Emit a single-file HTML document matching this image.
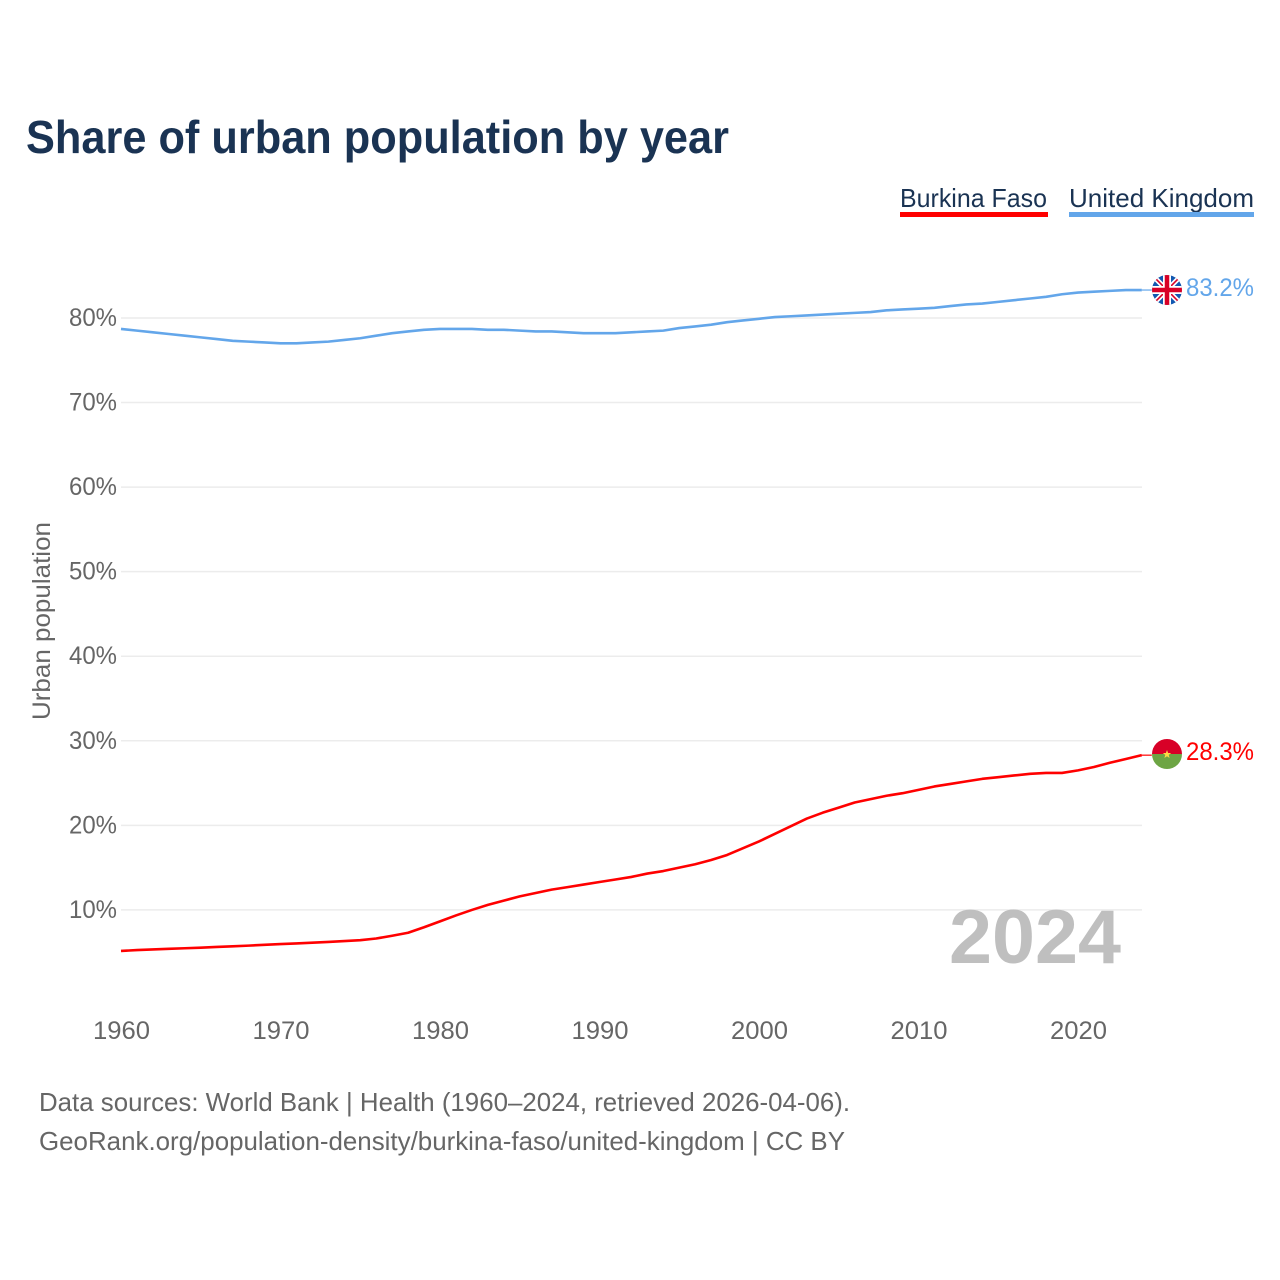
<!DOCTYPE html>
<html lang="en">
<head>
<meta charset="utf-8">
<title>Share of urban population by year</title>
<style>
html,body{margin:0;padding:0;background:#fff;width:1280px;height:1280px;overflow:hidden}
svg{display:block}
text{font-family:"Liberation Sans",sans-serif}
</style>
</head>
<body>
<svg id="chart" xmlns="http://www.w3.org/2000/svg" width="1280" height="1280" viewBox="0 0 1280 1280">
  <defs>
    <clipPath id="flag-clip-uk"><circle cx="1167" cy="290" r="15"/></clipPath>
    <clipPath id="flag-clip-bf"><circle cx="1167" cy="754" r="15"/></clipPath>
  </defs>
  <text x="26" y="153" font-size="46" font-weight="700" fill="#1a3353" textLength="703" lengthAdjust="spacingAndGlyphs">Share of urban population by year</text>

  <g>
    <text x="900" y="207" font-size="26" fill="#1a3353" textLength="147" lengthAdjust="spacingAndGlyphs">Burkina Faso</text>
    <rect x="900" y="212" width="148" height="5" fill="#ff0000"/>
  </g>
  <g>
    <text x="1069" y="207" font-size="26" fill="#1a3353" textLength="185" lengthAdjust="spacingAndGlyphs">United Kingdom</text>
    <rect x="1069" y="212" width="185" height="5" fill="#63a6ea"/>
  </g>

  <g id="grid"></g>
  <g id="y-ticks"></g>
  <g id="x-ticks"></g>

  <text transform="translate(50,720) rotate(-90)" font-size="25" fill="#666" textLength="198" lengthAdjust="spacingAndGlyphs">Urban population</text>

  <text x="949" y="963" font-size="76" font-weight="700" fill="#bfbfbf" textLength="172" lengthAdjust="spacingAndGlyphs">2024</text>

  <g id="series"></g>

  <g clip-path="url(#flag-clip-uk)">
    <rect x="1152" y="275" width="30" height="30" fill="#1257b0"/>
    <path d="M1152 275L1182 305M1182 275L1152 305" stroke="#fff" stroke-width="5"/>
    <path d="M1152 275L1182 305M1182 275L1152 305" stroke="#d80027" stroke-width="1.6"/>
    <path d="M1167 275V305M1152 290H1182" stroke="#fff" stroke-width="8"/>
    <path d="M1167 275V305M1152 290H1182" stroke="#d80027" stroke-width="4.5"/>
  </g>
  <text id="label-uk" x="1186" y="296" font-size="25" fill="#63a6ea" textLength="68" lengthAdjust="spacingAndGlyphs">83.2%</text>

  <g clip-path="url(#flag-clip-bf)">
    <rect x="1152" y="739" width="30" height="15" fill="#d80027"/>
    <rect x="1152" y="754" width="30" height="15" fill="#6da544"/>
    <polygon points="1167,750 1168.1,753 1171.2,753 1168.7,754.9 1169.6,758 1167,756.2 1164.4,758 1165.3,754.9 1162.8,753 1165.9,753" fill="#ffda44"/>
  </g>
  <text id="label-bf" x="1186" y="760" font-size="25" fill="#ff0000" textLength="68" lengthAdjust="spacingAndGlyphs">28.3%</text>

  <text x="39" y="1111" font-size="26" fill="#666" textLength="811" lengthAdjust="spacingAndGlyphs">Data sources: World Bank | Health (1960–2024, retrieved 2026-04-06).</text>
  <text x="39" y="1150" font-size="26" fill="#666" textLength="806" lengthAdjust="spacingAndGlyphs">GeoRank.org/population-density/burkina-faso/united-kingdom | CC BY</text>
</svg>
<script>
const startYear = 1960;
const yTickValues = [10, 20, 30, 40, 50, 60, 70, 80];
const xTickYears = [1960, 1970, 1980, 1990, 2000, 2010, 2020];
const unitedKingdom = [78.7,78.5,78.3,78.1,77.9,77.7,77.5,77.3,77.2,77.1,77.0,77.0,77.1,77.2,77.4,77.6,77.9,78.2,78.4,78.6,78.7,78.7,78.7,78.6,78.6,78.5,78.4,78.4,78.3,78.2,78.2,78.2,78.3,78.4,78.5,78.8,79.0,79.2,79.5,79.7,79.9,80.1,80.2,80.3,80.4,80.5,80.6,80.7,80.9,81.0,81.1,81.2,81.4,81.6,81.7,81.9,82.1,82.3,82.5,82.8,83.0,83.1,83.2,83.3,83.3];
const burkinaFaso = [5.15,5.25,5.33,5.4,5.47,5.54,5.62,5.7,5.78,5.87,5.96,6.04,6.13,6.22,6.32,6.42,6.62,6.95,7.3,7.95,8.65,9.35,10.0,10.6,11.1,11.6,12.0,12.4,12.7,13.0,13.3,13.6,13.9,14.3,14.6,15.0,15.4,15.9,16.5,17.3,18.1,19.0,19.9,20.8,21.5,22.1,22.7,23.1,23.5,23.8,24.2,24.6,24.9,25.2,25.5,25.7,25.9,26.1,26.2,26.2,26.5,26.9,27.4,27.85,28.3];

const NS = 'http://www.w3.org/2000/svg';
const xScale = function (year) { return 121 + (year - 1960) * 15.95; };
const yScale = function (value) { return 994.5 - value * 8.457; };

function make(tag, parent) {
  const el = document.createElementNS(NS, tag);
  parent.appendChild(el);
  return el;
}

const gridGroup = document.getElementById('grid');
const yGroup = document.getElementById('y-ticks');
yTickValues.forEach(function (v) {
  const line = make('line', gridGroup);
  
  
  line.setAttribute('x1', 121);
  line.setAttribute('x2', 1142);
  line.setAttribute('y1', yScale(v));
  line.setAttribute('y2', yScale(v));
  line.setAttribute('stroke', '#ececec');
  line.setAttribute('stroke-width', 1.5);
  const label = make('text', yGroup);
  
  
  label.setAttribute('x', 69);
  label.setAttribute('y', yScale(v) + 8);
  label.setAttribute('font-size', 25);
  label.setAttribute('fill', '#666');
  label.setAttribute('textLength', 48);
  label.setAttribute('lengthAdjust', 'spacingAndGlyphs');
  label.textContent = v + '%';
});

const xGroup = document.getElementById('x-ticks');
xTickYears.forEach(function (y) {
  const label = make('text', xGroup);
  
  
  label.setAttribute('x', xScale(y) - 28);
  label.setAttribute('y', 1039);
  label.setAttribute('font-size', 25);
  label.setAttribute('fill', '#666');
  label.setAttribute('textLength', 57);
  label.setAttribute('lengthAdjust', 'spacingAndGlyphs');
  label.textContent = y;
});

const seriesGroup = document.getElementById('series');
function drawSeries(values, color, name) {
  const pts = values.map(function (v, i) {
    return xScale(startYear + i).toFixed(2) + ',' + yScale(v).toFixed(2);
  });
  const line = make('polyline', seriesGroup);
  
  
  line.setAttribute('points', pts.join(' '));
  line.setAttribute('fill', 'none');
  line.setAttribute('stroke', color);
  line.setAttribute('stroke-width', 2.6);
  line.setAttribute('stroke-linejoin', 'round');
  const lastYear = startYear + values.length - 1;
  const lastValue = values[values.length - 1];
  const lead = make('line', seriesGroup);
  
  
  lead.setAttribute('x1', xScale(lastYear));
  lead.setAttribute('x2', xScale(lastYear) + 10);
  lead.setAttribute('y1', yScale(lastValue));
  lead.setAttribute('y2', yScale(lastValue));
  lead.setAttribute('stroke', color);
  lead.setAttribute('stroke-width', 1.2);
}
drawSeries(unitedKingdom, '#63a6ea', 'line-united-kingdom');
drawSeries(burkinaFaso, '#ff0000', 'line-burkina-faso');
</script>
</body>
</html>
